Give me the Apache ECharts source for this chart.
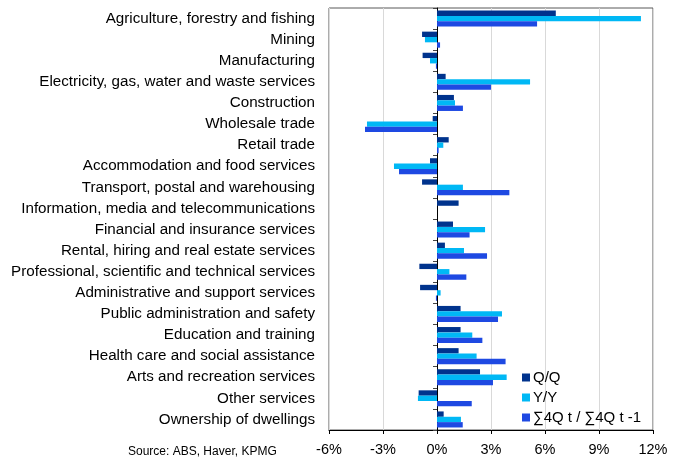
<!DOCTYPE html>
<html>
<head>
<meta charset="utf-8">
<script src="https://cdn.jsdelivr.net/npm/echarts@6/dist/echarts.min.js"></script>
<style>html,body{margin:0;padding:0;background:#fff;}#c{width:680px;height:462px;}</style>
</head>
<body>
<div id="c"></div>
<script>
var categories = [
  "Agriculture, forestry and fishing",
  "Mining",
  "Manufacturing",
  "Electricity, gas, water and waste services",
  "Construction",
  "Wholesale trade",
  "Retail trade",
  "Accommodation and food services",
  "Transport, postal and warehousing",
  "Information, media and telecommunications",
  "Financial and insurance services",
  "Rental, hiring and real estate services",
  "Professional, scientific and technical services",
  "Administrative and support services",
  "Public administration and safety",
  "Education and training",
  "Health care and social assistance",
  "Arts and recreation services",
  "Other services",
  "Ownership of dwellings"
];
var seriesNames = ["Q/Q", "Y/Y", "\u22114Q t / \u22114Q t -1"];
var qq  = [6.6, -0.83, -0.8, 0.48, 0.94, -0.24, 0.65, -0.39, -0.83, 1.2, 0.89, 0.44, -0.98, -0.94, 1.31, 1.31, 1.2, 2.39, -1.02, 0.37];
var yy  = [11.33, -0.67, -0.39, 5.17, 1.0, -3.89, 0.35, -2.39, 1.44, 0, 2.67, 1.5, 0.69, 0.2, 3.61, 1.96, 2.2, 3.87, -1.06, 1.33];
var cum = [5.56, 0.17, -0.06, 3.0, 1.44, -4.0, 0.09, -2.11, 4.02, 0, 1.81, 2.78, 1.63, -0.06, 3.39, 2.52, 3.81, 3.11, 1.93, 1.43];
var xTicks = { min: -6, max: 12, interval: 3 };
var sourceText = "Source: ABS, Haver, KPMG";
var colors = ["#00338D", "#00B8F5", "#1E49E2"];

var chart = echarts.init(document.getElementById('c'), null, { renderer: 'canvas' });
var font = "Arial, 'Liberation Sans', sans-serif";
chart.setOption({
  animation: false,
  textStyle: { fontFamily: font },
  grid: { left: 329, right: 27, top: 8, bottom: 32, show: true, borderColor: '#595959', borderWidth: 1 },
  legend: {
    orient: 'vertical', left: 522, top: 370, padding: 0,
    itemWidth: 8, itemHeight: 8, itemGap: 5,
    icon: 'rect',
    textStyle: { fontSize: 15, color: '#000', fontFamily: font, padding: [0, 0, 0, -2] },
    data: seriesNames
  },
  xAxis: {
    type: 'value', min: xTicks.min, max: xTicks.max, interval: xTicks.interval,
    axisLine: { show: true, onZero: false, lineStyle: { color: '#000', width: 1 } },
    axisTick: { show: true, length: 4, lineStyle: { color: '#000' } },
    axisLabel: { formatter: '{value}%', fontSize: 14.5, color: '#000', margin: 12, fontFamily: font },
    splitLine: { show: true, lineStyle: { color: '#d9d9d9', width: 1 } }
  },
  yAxis: [
    {
      type: 'category', data: categories, inverse: true, position: 'left',
      axisLine: { show: false, onZero: false }, axisTick: { show: false },
      axisLabel: { fontSize: 15.2, color: '#000', margin: 14, fontFamily: font, interval: 0 },
      splitLine: { show: false }
    },
    {
      type: 'category', data: categories, inverse: true, position: 'left',
      axisLine: { show: true, onZero: true, lineStyle: { color: '#000', width: 1 } },
      axisTick: { show: true, length: 4, lineStyle: { color: '#444' } },
      axisLabel: { show: false },
      splitLine: { show: false }
    }
  ],
  series: [
    { name: seriesNames[0], type: 'bar', data: qq, yAxisIndex: 0, itemStyle: { color: colors[0] }, barGap: '0%', barCategoryGap: '24%' },
    { name: seriesNames[1], type: 'bar', data: yy, yAxisIndex: 0, itemStyle: { color: colors[1] }, barGap: '0%', barCategoryGap: '24%' },
    { name: seriesNames[2], type: 'bar', data: cum, yAxisIndex: 0, itemStyle: { color: colors[2] }, barGap: '0%', barCategoryGap: '24%' }
  ],
  graphic: [
    { type: 'text', left: 128, top: 446, style: { text: sourceText, fontSize: 12, fill: '#000', fontFamily: font } }
  ]
});
</script>
</body>
</html>
